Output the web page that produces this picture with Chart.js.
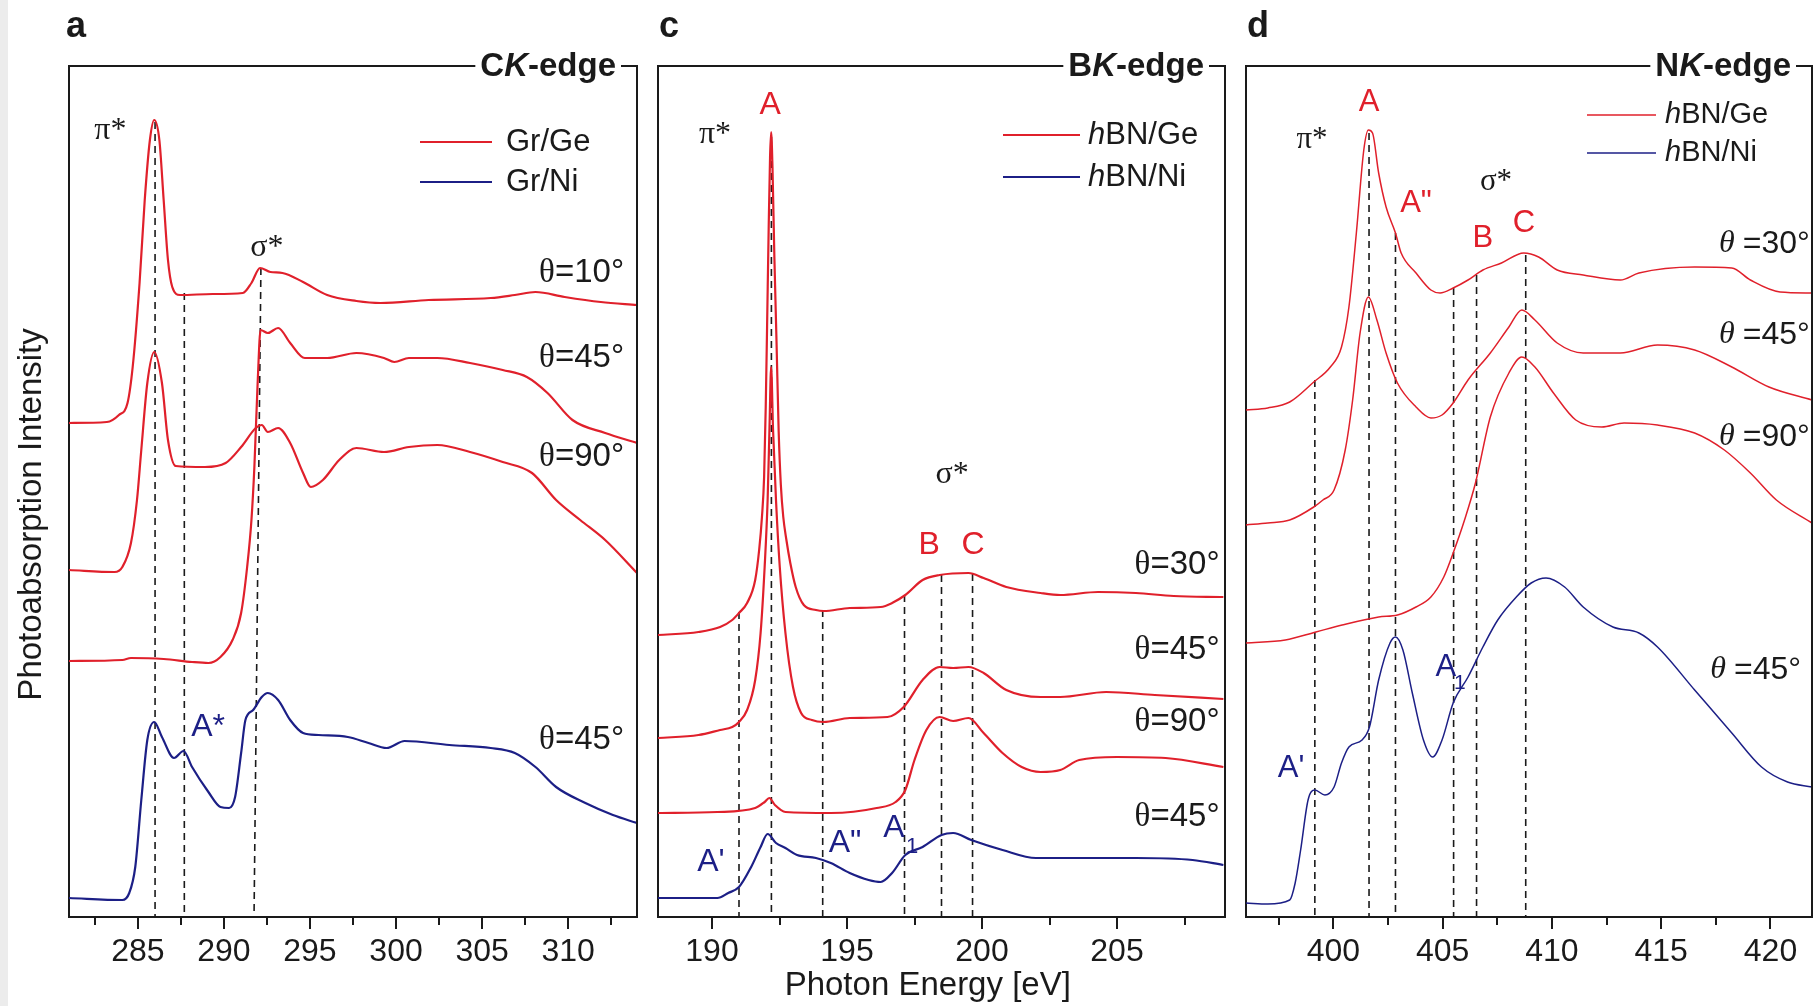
<!DOCTYPE html>
<html>
<head>
<meta charset="utf-8">
<title>C, B and N K-edge NEXAFS</title>
<script src="https://cdn.jsdelivr.net/npm/chart.js@4.4.0/dist/chart.umd.min.js"></script>
<style>
  body { margin: 0; background: #fff; }
  #page { position: relative; width: 1813px; height: 1006px; overflow: hidden; background: #fff; }
  #page canvas { position: absolute; top: 0; }
  #edge { position: absolute; left: 0; top: 0; width: 8px; height: 1006px; background: #ececec; }
</style>
</head>
<body>
<div id="page">
  <div id="edge"></div>
  <canvas id="chartA" width="648" height="1006" style="left:0"></canvas>
  <canvas id="chartC" width="588" height="1006" style="left:648px"></canvas>
  <canvas id="chartD" width="577" height="1006" style="left:1236px"></canvas>
</div>
<script>
// ---- tick positions (eV) ----
const cEdgeTicks = [282.5, 285, 287.5, 290, 292.5, 295, 297.5, 300, 302.5, 305, 307.5, 310, 312.5];
const bEdgeTicks = [190, 192.5, 195, 197.5, 200, 202.5, 205, 207.5];
const nEdgeTicks = [397.5, 400, 402.5, 405, 407.5, 410, 412.5, 415, 417.5, 420];

// ---- C K-edge, [energy eV, intensity a.u.] ----
const grGe10 = [[281.0,494],[283.2,495],[283.9,502],[284.4,514],[284.7,550],[285.1,634],[285.4,717],[285.7,777],[285.95,797],[286.25,777],[286.5,717],[286.75,657],[287.0,630],[287.45,622],[289.35,623],[291.1,624],[291.6,634],[292.1,649],[292.7,645],[293.4,644],[294.6,635],[296.0,622],[297.7,616],[299.1,614],[301.9,617],[305.5,619],[306.9,622],[308.1,625],[309.8,620],[311.9,615],[314.0,612]];
const grGe45 = [[281.0,256],[284.1,257],[284.6,259],[286.5,258],[288.15,255],[289.1,254],[289.8,260],[290.5,277],[291.0,304],[291.35,350],[291.6,397],[291.77,450],[291.96,534],[292.13,587],[292.55,584],[293.15,589],[293.85,574],[294.7,559],[296.0,559],[297.7,564],[299.3,559],[299.9,555],[300.75,559],[302.4,559],[304.3,554],[306.2,547],[307.6,540],[308.8,524],[310.25,497],[312.15,484],[314.0,474]];
const grGe90 = [[281.0,347],[283.65,345],[284.1,350],[284.6,374],[284.95,417],[285.2,467],[285.55,534],[285.95,565],[286.4,534],[286.75,477],[287.2,451],[288.9,450],[290.1,454],[291.0,470],[291.85,489],[292.2,492],[292.55,485],[293.15,489],[293.85,474],[294.6,444],[295.05,430],[295.75,437],[296.7,457],[297.7,469],[299.3,465],[300.75,470],[302.4,472],[304.3,465],[306.2,455],[307.9,444],[309.3,417],[310.7,397],[312.15,377],[314.0,344]];
const grNi45 = [[281.0,19],[284.1,17],[284.5,24],[284.85,50],[285.2,117],[285.55,177],[285.95,195],[286.4,180],[287.1,159],[287.65,166],[288.15,150],[289.1,125],[289.8,110],[290.3,109],[290.65,120],[291.0,164],[291.25,197],[291.7,207],[292.2,220],[292.55,224],[293.15,217],[293.85,197],[294.6,184],[295.5,182],[297.2,180],[298.4,174],[299.45,169],[300.5,176],[303.1,172],[305.5,169],[306.9,164],[308.1,150],[309.3,130],[311.0,114],[312.6,102],[314.0,94]];
const cEdgeMarkers = [[286.0,795],[287.7,624],[292.15,649,291.75]];  // [x top, y top, x bottom]

// ---- B K-edge ----
const bnGe30B = [[188.0,282],[189.5,285],[190.3,290],[190.75,297],[191.0,304],[191.3,314],[191.6,337],[191.75,368],[191.85,400],[191.93,440],[191.99,510],[192.04,590],[192.1,690],[192.15,760],[192.19,785],[192.24,750],[192.31,660],[192.39,575],[192.47,485],[192.55,432],[192.64,400],[192.75,378],[192.9,354],[193.1,330],[193.4,312],[193.85,307],[194.13,306],[195.1,309],[196.25,310],[196.67,314],[197.16,322],[197.8,337],[198.43,342],[199.5,344],[200.06,339],[200.9,330],[202.17,324],[202.9,322],[204.3,325],[205.7,324],[207.1,321],[208.94,320]];
const bnGe45B = [[188.0,179],[189.5,182],[190.3,187],[190.75,190],[191.0,195],[191.3,207],[191.6,237],[191.8,284],[191.95,350],[192.06,417],[192.13,490],[192.19,550],[192.26,488],[192.37,417],[192.51,350],[192.72,284],[193.0,230],[193.3,204],[193.7,197],[194.13,195],[195.1,199],[196.5,200],[197.1,210],[197.8,237],[198.43,250],[198.93,249],[199.5,250],[200.06,244],[200.9,227],[202.17,220],[202.9,220],[204.6,225],[206.4,222],[208.94,218]];
const bnGe90B = [[188.0,104],[190.2,105],[191.6,109],[191.95,115],[192.12,119],[192.33,112],[192.72,105],[194.4,104],[196.1,109],[196.8,115],[197.16,127],[197.5,157],[197.94,187],[198.43,200],[198.93,196],[199.5,199],[200.06,184],[200.76,164],[201.47,150],[202.17,145],[202.9,147],[203.6,157],[205.0,160],[206.8,159],[208.94,150]];
const bnNi45B = [[188.0,19],[190.2,19],[190.6,24],[191.0,30],[191.45,50],[191.8,70],[192.06,83],[192.37,74],[192.72,69],[193.15,62],[193.85,59],[194.4,54],[195.1,44],[195.8,37],[196.25,35],[196.67,44],[197.16,62],[197.8,70],[198.5,82],[198.93,84],[199.6,77],[200.76,67],[202.0,59],[203.6,59],[205.7,59],[207.8,57],[208.94,52]];
const bEdgeMarkers = [[191.0,305],[192.2,780],[194.1,307],[197.13,322],[198.5,342],[199.65,343]];

// ---- N K-edge ----
const bnGe30N = [[396.0,507],[397.0,509],[398.0,515],[399.1,535],[399.86,550],[400.37,570],[400.71,610],[401.05,684],[401.39,767],[401.6,787],[401.79,784],[402.07,744],[402.41,710],[402.84,684],[403.1,664],[403.78,644],[404.46,627],[404.88,624],[405.48,629],[406.16,637],[406.84,647],[407.69,654],[408.71,664],[409.39,660],[410.24,647],[411.43,642],[413.13,637],[413.98,644],[416.53,650],[418.23,649],[419.08,637],[420.44,625],[421.9,624]];
const bnGe45N = [[396.0,392],[397.0,394],[398.0,397],[399.1,410],[399.52,417],[400.03,427],[400.54,467],[400.88,517],[401.22,584],[401.6,620],[401.99,597],[402.41,564],[402.93,534],[403.78,510],[404.46,499],[404.97,502],[405.48,514],[406.16,537],[407.18,564],[408.03,590],[408.62,607],[409.22,597],[410.24,574],[411.43,564],[413.13,564],[414.83,572],[416.53,567],[418.23,550],[419.93,530],[421.9,517]];
const bnGe90N = [[396.0,274],[397.8,277],[399.2,285],[400.4,292],[402.07,300],[402.93,302],[403.78,310],[404.46,320],[405.05,340],[405.48,364],[406.0,397],[406.5,434],[407.18,500],[408.03,544],[408.62,560],[409.22,550],[410.07,524],[411.09,497],[412.28,490],[413.3,494],[414.83,492],[416.53,484],[417.89,467],[419.08,444],[420.27,417],[421.9,394]];
const bnNi45N = [[396.0,14],[397.0,13],[398.0,17],[398.25,34],[398.5,67],[398.84,117],[399.15,127],[399.61,122],[400.03,130],[400.37,154],[400.71,170],[401.31,177],[401.65,190],[402.07,237],[402.59,274],[402.84,280],[403.18,267],[403.61,224],[404.12,177],[404.54,160],[404.97,177],[405.48,214],[406.16,240],[406.84,270],[407.52,297],[408.37,320],[409.05,334],[409.73,339],[410.58,330],[411.43,310],[412.79,290],[413.98,284],[414.83,270],[416.53,227],[418.23,184],[419.59,150],[420.78,135],[421.9,130]];
const nEdgeMarkers = [[399.15,537],[401.63,784],[402.84,684],[405.5,629],[406.55,642],[408.8,662]];

const RED = '#e0202b';
const BLUE = '#1c1f86';
const INK = '#1a1a1a';
const SANS = '"Liberation Sans", Arial, sans-serif';
const SERIF = '"Liberation Serif", "Times New Roman", serif';

// text helpers: a label is a list of segments {t, it, family, size}
function segFont(s, o) {
  return (s.it ? 'italic ' : '') + (o.weight || 'normal') + ' ' + (s.size || o.size) + 'px ' + (s.family || o.family || SANS);
}
function richWidth(ctx, segs, o) {
  let w = 0;
  segs.forEach(s => { ctx.font = segFont(s, o); w += ctx.measureText(s.t).width; });
  return w;
}
function drawRich(ctx, segs, x, y, o) {
  const w = richWidth(ctx, segs, o);
  let cx = o.align === 'right' ? x - w : o.align === 'left' ? x : x - w / 2;
  ctx.fillStyle = o.color || INK;
  ctx.textAlign = 'left';
  ctx.textBaseline = 'middle';
  segs.forEach(s => {
    ctx.font = segFont(s, o);
    ctx.fillText(s.t, cx, y);
    cx += ctx.measureText(s.t).width;
  });
}
const theta = (deg, it) => [{ t: it ? 'θ ' : 'θ', family: SERIF, it: it }, { t: '=' + deg + '°' }];
const hbn = sub => [{ t: 'h', it: true }, { t: 'BN/' + sub }];
const isMajor = v => Math.abs(v % 5) < 1e-6;

function curve(label, pts, color, width) {
  return {
    label, data: pts.map(p => ({ x: p[0], y: p[1] })),
    borderColor: color, borderWidth: width, pointRadius: 0,
    cubicInterpolationMode: 'monotone', fill: false
  };
}
function marker(m) {
  return {
    label: 'marker', data: [{ x: m[0], y: m[1] }, { x: m.length > 2 ? m[2] : m[0], y: 0 }],
    borderColor: INK, borderWidth: 1.6, borderDash: [7, 5], pointRadius: 0, tension: 0, fill: false
  };
}

// frame, edge title, minor ticks, panel letter, legend and peak labels
function decor(p) {
  return {
    id: 'decor',
    afterDraw(chart) {
      const { ctx, chartArea: ca, scales: { x, y } } = chart;
      ctx.save();
      const eo = { size: 33, weight: 'bold' };
      const tr = ca.right - 21, tl = tr - richWidth(ctx, p.edge, eo);
      ctx.strokeStyle = INK;
      ctx.lineWidth = 2;
      ctx.beginPath();
      ctx.moveTo(ca.left - 1, ca.top); ctx.lineTo(tl - 5, ca.top);
      ctx.moveTo(tr + 5, ca.top); ctx.lineTo(ca.right, ca.top); ctx.lineTo(ca.right, ca.bottom + 1);
      // short minor ticks between the labelled ones
      p.ticks.filter(v => !isMajor(v)).forEach(v => {
        const px = Math.round(x.getPixelForValue(v));
        ctx.moveTo(px, ca.bottom); ctx.lineTo(px, ca.bottom + 8);
      });
      ctx.stroke();
      drawRich(ctx, p.edge, tl, ca.top + 1, Object.assign({ align: 'left' }, eo));

      ctx.font = 'bold 36px ' + SANS;
      ctx.fillStyle = INK;
      ctx.textAlign = 'left';
      ctx.textBaseline = 'alphabetic';
      ctx.fillText(p.letter, ca.left + p.letterDx, 37);

      const L = p.legend;
      L.items.forEach((it, i) => {
        const ly = ca.top + L.y0 + i * L.dy;
        ctx.strokeStyle = it.color;
        ctx.lineWidth = p.lw;
        ctx.setLineDash([]);
        ctx.beginPath();
        ctx.moveTo(ca.right - L.x0, ly); ctx.lineTo(ca.right - L.x1, ly);
        ctx.stroke();
        drawRich(ctx, it.segs, ca.right - L.xt, ly, { size: L.size, align: 'left', color: INK });
      });

      p.notes.forEach(n => {
        drawRich(ctx, n.segs, x.getPixelForValue(n.x), y.getPixelForValue(n.y),
          { size: n.size, align: n.align || 'center', color: n.color || INK });
      });
      ctx.restore();
    }
  };
}

function buildPanel(p) {
  const datasets = p.series.map(s => curve(s.label, s.data, s.color, p.lw)).concat(p.markers.map(marker));
  new Chart(document.getElementById(p.id), {
    type: 'line',
    data: { datasets },
    options: {
      responsive: false,
      animation: false,
      events: [],
      layout: { padding: { left: 0, right: p.padRight, top: 66, bottom: 0 } },
      plugins: { legend: { display: false }, tooltip: { enabled: false } },
      scales: {
        x: {
          type: 'linear', min: p.xMin, max: p.xMax, bounds: 'data',
          afterBuildTicks: s => { s.ticks = p.ticks.map(v => ({ value: v })); },
          afterFit: s => { s.height = 89; },
          border: { display: true, color: INK, width: 2 },
          grid: {
            display: true, drawOnChartArea: false, drawTicks: true, tickLength: 12, lineWidth: 2,
            color: INK,
            tickColor: c => (c.tick && isMajor(c.tick.value) ? INK : 'rgba(0,0,0,0)')
          },
          ticks: {
            autoSkip: false, maxRotation: 0, padding: 4, color: INK,
            font: { family: SANS, size: 32 },
            callback: v => (isMajor(v) ? String(v) : '')
          },
          // trailing spaces nudge the centred title a little to the left, as in the figure
          title: p.xTitle
            ? { display: true, text: p.xTitle + '   ', color: INK, font: { family: SANS, size: 33 }, padding: 0 }
            : { display: false }
        },
        y: {
          min: 0, max: 851,
          afterFit: s => { s.width = p.yWidth; },
          border: { display: true, color: INK, width: 2 },
          grid: { drawOnChartArea: false, drawTicks: false },
          ticks: { display: false },
          title: p.yTitle
            ? { display: true, text: p.yTitle + '     ', color: INK, font: { family: SANS, size: 33 }, padding: { top: 12, bottom: 0 } }
            : { display: false }
        }
      }
    },
    plugins: [decor(p)]
  });
}

buildPanel({
  id: 'chartA', letter: 'a', letterDx: -3, lw: 2.2,
  edge: [{ t: 'C' }, { t: 'K', it: true }, { t: '-edge' }],
  xMin: 281, xMax: 314, ticks: cEdgeTicks, padRight: 11, yWidth: 69,
  yTitle: 'Photoabsorption Intensity',
  series: [
    { label: 'Gr/Ge θ=10°', data: grGe10, color: RED },
    { label: 'Gr/Ge θ=45°', data: grGe45, color: RED },
    { label: 'Gr/Ge θ=90°', data: grGe90, color: RED },
    { label: 'Gr/Ni θ=45°', data: grNi45, color: BLUE }
  ],
  markers: cEdgeMarkers,
  legend: { x0: 217, x1: 145, xt: 131, y0: 76, dy: 40, size: 31,
    items: [{ segs: [{ t: 'Gr/Ge' }], color: RED }, { segs: [{ t: 'Gr/Ni' }], color: BLUE }] },
  notes: [
    { segs: [{ t: 'π*', family: SERIF }], x: 283.4, y: 786, size: 32 },
    { segs: [{ t: 'σ*', family: SERIF }], x: 292.5, y: 669, size: 32 },
    { segs: [{ t: 'A*' }], x: 289.08, y: 190, size: 32, color: BLUE },
    { segs: theta(10), x: 313.25, y: 644, size: 33, align: 'right' },
    { segs: theta(45), x: 313.25, y: 559, size: 33, align: 'right' },
    { segs: theta(90), x: 313.25, y: 460, size: 33, align: 'right' },
    { segs: theta(45), x: 313.25, y: 177, size: 33, align: 'right' }
  ]
});

buildPanel({
  id: 'chartC', letter: 'c', letterDx: 1, lw: 2.2,
  edge: [{ t: 'B' }, { t: 'K', it: true }, { t: '-edge' }],
  xMin: 188, xMax: 209, ticks: bEdgeTicks, padRight: 11, yWidth: 10,
  xTitle: 'Photon Energy [eV]',
  series: [
    { label: 'hBN/Ge θ=30°', data: bnGe30B, color: RED },
    { label: 'hBN/Ge θ=45°', data: bnGe45B, color: RED },
    { label: 'hBN/Ge θ=90°', data: bnGe90B, color: RED },
    { label: 'hBN/Ni θ=45°', data: bnNi45B, color: BLUE }
  ],
  markers: bEdgeMarkers,
  legend: { x0: 222, x1: 145, xt: 137, y0: 69, dy: 42, size: 31,
    items: [{ segs: hbn('Ge'), color: RED }, { segs: hbn('Ni'), color: BLUE }] },
  notes: [
    { segs: [{ t: 'A' }], x: 192.15, y: 812, size: 32, color: RED },
    { segs: [{ t: 'π*', family: SERIF }], x: 190.11, y: 782, size: 32 },
    { segs: [{ t: 'σ*', family: SERIF }], x: 198.89, y: 442, size: 32 },
    { segs: [{ t: 'B' }], x: 198.04, y: 372, size: 32, color: RED },
    { segs: [{ t: 'C' }], x: 199.67, y: 372, size: 32, color: RED },
    { segs: theta(30), x: 208.8, y: 352, size: 33, align: 'right' },
    { segs: theta(45), x: 208.8, y: 267, size: 33, align: 'right' },
    { segs: theta(90), x: 208.8, y: 195, size: 33, align: 'right' },
    { segs: theta(45), x: 208.8, y: 100, size: 33, align: 'right' },
    { segs: [{ t: "A'" }], x: 189.96, y: 55, size: 32, color: BLUE },
    { segs: [{ t: 'A"' }], x: 194.93, y: 74, size: 32, color: BLUE },
    { segs: [{ t: 'A' }], x: 196.74, y: 89, size: 32, color: BLUE },
    { segs: [{ t: '1' }], x: 197.41, y: 70, size: 22, color: BLUE }
  ]
});

buildPanel({
  id: 'chartD', letter: 'd', letterDx: 1, lw: 1.5,
  edge: [{ t: 'N' }, { t: 'K', it: true }, { t: '-edge' }],
  xMin: 396, xMax: 421.9, ticks: nEdgeTicks, padRight: 1, yWidth: 10,
  series: [
    { label: 'hBN/Ge θ=30°', data: bnGe30N, color: RED },
    { label: 'hBN/Ge θ=45°', data: bnGe45N, color: RED },
    { label: 'hBN/Ge θ=90°', data: bnGe90N, color: RED },
    { label: 'hBN/Ni θ=45°', data: bnNi45N, color: BLUE }
  ],
  markers: nEdgeMarkers,
  legend: { x0: 225, x1: 156, xt: 147, y0: 49, dy: 38, size: 29,
    items: [{ segs: hbn('Ge'), color: RED }, { segs: hbn('Ni'), color: BLUE }] },
  notes: [
    { segs: [{ t: 'A' }], x: 401.63, y: 815, size: 31, color: RED },
    { segs: [{ t: 'π*', family: SERIF }], x: 399.02, y: 777, size: 31 },
    { segs: [{ t: 'A"' }], x: 403.78, y: 714, size: 31, color: RED },
    { segs: [{ t: 'σ*', family: SERIF }], x: 407.44, y: 735, size: 31 },
    { segs: [{ t: 'B' }], x: 406.84, y: 679, size: 31, color: RED },
    { segs: [{ t: 'C' }], x: 408.72, y: 694, size: 31, color: RED },
    { segs: theta(30, true), x: 421.8, y: 673, size: 32, align: 'right' },
    { segs: theta(45, true), x: 421.8, y: 582, size: 32, align: 'right' },
    { segs: theta(90, true), x: 421.8, y: 480, size: 32, align: 'right' },
    { segs: theta(45, true), x: 421.4, y: 247, size: 32, align: 'right' },
    { segs: [{ t: "A'" }], x: 398.06, y: 149, size: 31, color: BLUE },
    { segs: [{ t: 'A' }], x: 405.15, y: 250, size: 31, color: BLUE },
    { segs: [{ t: '1' }], x: 405.78, y: 234, size: 21, color: BLUE }
  ]
});
</script>
</body>
</html>
